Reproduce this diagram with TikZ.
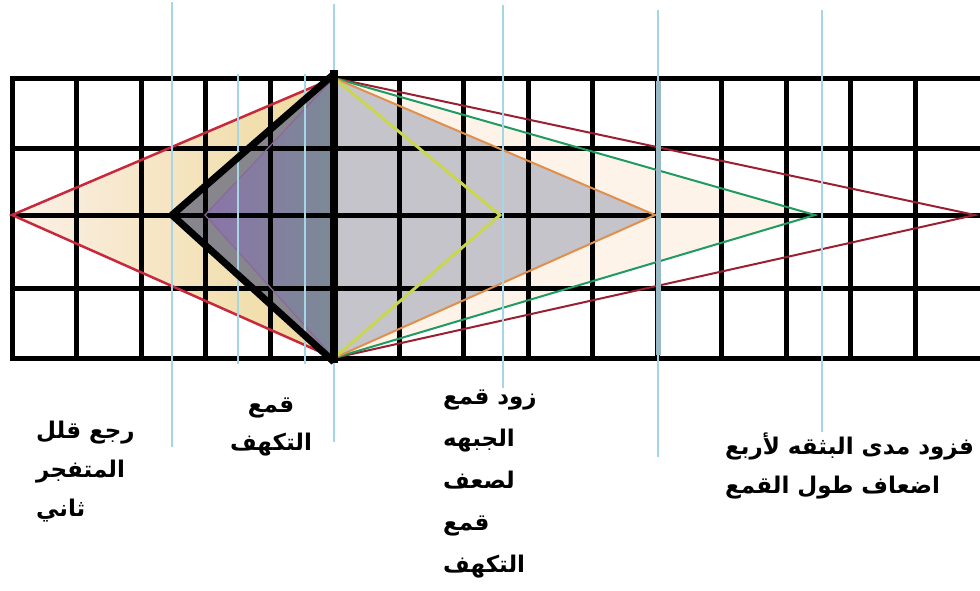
\documentclass[tikz,border=0pt]{standalone}
\usepackage{fontspec}
\newfontfamily\arabicfont[Script=Arabic]{DejaVu Sans}
\TeXXeTstate=1
\definecolor{guideblue}{HTML}{A6D6E6}
\definecolor{guidegrey}{HTML}{98B8C4}
\definecolor{yelA}{HTML}{FBF0E8}
\definecolor{yelB}{HTML}{EED99A}
\definecolor{fillgray}{HTML}{C6C4CB}
\definecolor{fillpeach}{HTML}{FDF3E8}
\definecolor{darkfill}{HTML}{86868C}
\definecolor{purA}{HTML}{8B74A8}
\definecolor{purB}{HTML}{7C8A96}
\definecolor{redL}{HTML}{C8283C}
\definecolor{redR}{HTML}{9A1F30}
\definecolor{greenE}{HTML}{1F9A60}
\definecolor{orangeE}{HTML}{E0904E}
\definecolor{ygE}{HTML}{C9D650}
\definecolor{purE}{HTML}{8A6A9A}
\begin{document}
\begin{tikzpicture}[x=1pt,y=-1pt,
  gridline/.style={line width=5pt, black, line cap=rect},
  guide/.style={line width=2pt, guideblue},
  edge/.style={line width=2pt},
  lbl/.style={font=\arabicfont\bfseries\fontsize{23}{#1}\selectfont, align=left, anchor=north west, inner sep=0pt}]
\useasboundingbox (0,0) rectangle (980,590);
% key points
\coordinate (T) at (334,78);
\coordinate (B) at (334,358);
\coordinate (Lred) at (12,215);
\coordinate (Lblk) at (172,215);
\coordinate (Lpur) at (205,215);
\coordinate (Ryg) at (500,215);
\coordinate (Ror) at (655,215);
\coordinate (Rgr) at (815,215);
\coordinate (Rred) at (975,215);
% fills
\fill[left color=yelA, right color=yelB] (T) -- (Lred) -- (B) -- cycle;
\fill[fillpeach] (T) -- (Rgr) -- (B) -- cycle;
\fill[fillgray] (T) -- (Ror) -- (B) -- cycle;
\fill[darkfill] (T) -- (Lblk) -- (B) -- cycle;
\fill[left color=purA, right color=purB] (T) -- (Lpur) -- (B) -- cycle;
% grid
\foreach \y in {78,148,215,288,358} \draw[gridline] (12,\y) -- (980,\y);
\foreach \k in {0,...,14} \draw[gridline] ({12+64.5*\k},78) -- ({12+64.5*\k},358);
% coloured triangles
\draw[edge, redL, line width=2.5pt] (T) -- (Lred) -- (B);
\draw[edge, redR] (T) -- (Rred) -- (B);
\draw[edge, greenE] (T) -- (Rgr) -- (B);
\draw[edge, orangeE] (T) -- (Ror) -- (B);
\draw[edge, ygE, line width=3pt] (T) -- (Ryg) -- (B);
\draw[edge, purE, line width=1.2pt] (T) -- (Lpur) -- (B);
% guide lines
\draw[guide] (172,2) -- (172,447);
\draw[guide] (238,74) -- (238,364);
\draw[guide] (305,74) -- (305,364);
\draw[guide] (334,4) -- (334,442);
\draw[guide] (503,5) -- (503,388);
\draw[guide] (658,10) -- (658,457);
\draw[guidegrey, line width=5pt] (658,81) -- (658,355);
\draw[guide] (822,10) -- (822,432);
% black cavity triangle
\draw[line width=7pt, line join=miter] (334,74) -- (Lblk) -- (334,362);
\draw[line width=8pt] (334,70) -- (334,363);
% labels
\node[lbl=39] (lblA) at (36,421) {\beginR رجع قلل\endR\\ \beginR المتفجر\endR\\ \beginR ثاني\endR};
\node[lbl=38, align=center, anchor=north] (lblB) at (271,398) {\beginR قمع\endR\\ \beginR التكهف\endR};
\node[lbl=42] (lblC) at (443,390) {\beginR زود قمع\endR\\ \beginR الجبهه\endR\\ \beginR لصعف\endR\\ \beginR قمع\endR\\ \beginR التكهف\endR};
\node[lbl=39] (lblD) at (725,433) {\beginR فزود مدى البثقه لأربع\endR\\ \beginR اضعاف طول القمع\endR};
\end{tikzpicture}
\end{document}
